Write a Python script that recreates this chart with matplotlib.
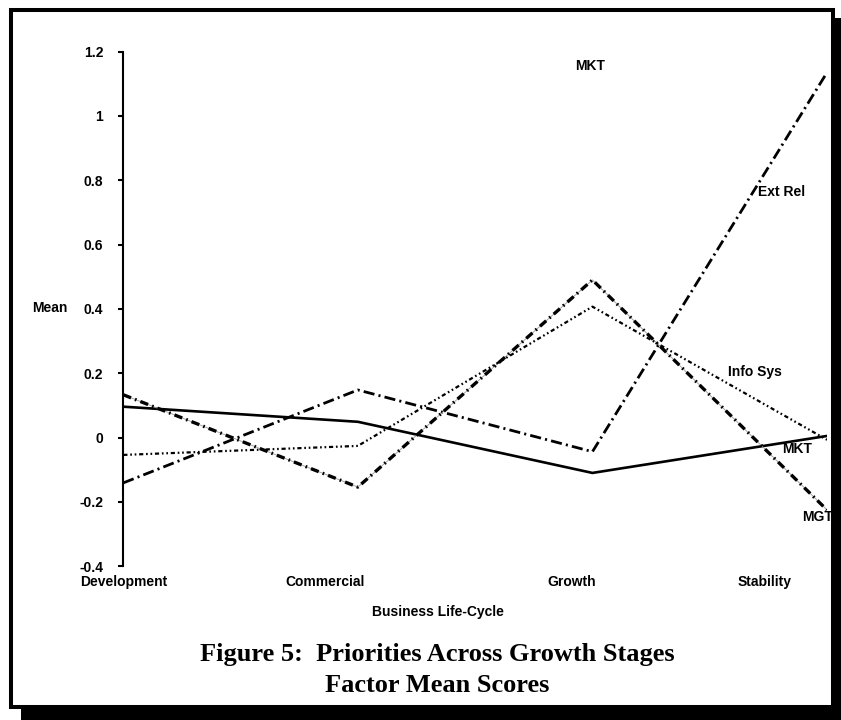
import matplotlib
matplotlib.use("Agg")
import matplotlib.pyplot as plt
from matplotlib.patches import Rectangle

plt.rcParams['font.family'] = ['Liberation Sans', 'DejaVu Sans']
plt.rcParams['lines.scale_dashes'] = False

# categories and factor mean scores
stages = ['Development', 'Commercial', 'Growth', 'Stability']
mkt = [0.096, 0.049, -0.110, 0.005]
ext_rel = [-0.141, 0.148, -0.044, 1.135]
mgt = [0.133, -0.154, 0.490, -0.225]
info_sys = [-0.054, -0.026, 0.407, -0.007]

yticks = [-0.4, -0.2, 0, 0.2, 0.4, 0.6, 0.8, 1, 1.2]
ytick_labels = ['-0.4', '-0.2', '0', '0.2', '0.4', '0.6', '0.8', '1', '1.2']

W, H = 841, 720
fig = plt.figure(figsize=(W / 100, H / 100), dpi=100)

# framed box with drop shadow
fig.patches.append(Rectangle((21 / W, 0), 1, 1 - 18 / H, transform=fig.transFigure,
                             facecolor='black', edgecolor='none', zorder=-3))
fig.patches.append(Rectangle((11 / W, 1 - 707 / H), 822 / W, 697 / H, transform=fig.transFigure,
                             facecolor='white', edgecolor='black', linewidth=2.9, zorder=-2))

ax = fig.add_axes([123.3 / W, 1 - 566.2 / H, (827 - 123.3) / W, (566.2 - 51.6) / H])
ax.patch.set_alpha(0)

x = list(range(len(stages)))
ax.plot(x, mkt, color='black', lw=1.9, solid_joinstyle='miter')
ax.plot(x, ext_rel, color='black', lw=2.0, linestyle=(0, (8, 3, 1.5, 3)))
ax.plot(x, mgt, color='#9a9a9a', lw=0.6)
ax.plot(x, mgt, color='black', lw=2.4, linestyle=(0, (6, 3, 1.2, 3)))
ax.plot(x, info_sys, color='black', lw=1.6, linestyle=(0, (3, 2, 1.2, 2, 1.2, 2)))

ax.set_xlim(0, 3)
ax.set_ylim(-0.4, 1.2)
for s in ['top', 'right', 'bottom']:
    ax.spines[s].set_visible(False)
ax.spines['left'].set_linewidth(1.5)

ax.set_yticks(yticks, ytick_labels)
ax.tick_params(axis='y', direction='out', length=3.6, width=1.5, pad=11,
               labelsize=10)
for t in ax.get_yticklabels():
    t.set_fontweight('bold')

ax.set_xticks([0, 0.86, 1.91, 2.735], stages)
ax.tick_params(axis='x', length=0, pad=6, labelsize=10)
for t in ax.get_xticklabels():
    t.set_fontweight('bold')

# series labels
lab = dict(fontsize=10, fontweight='bold', va='center')
ax.text(1.99, 1.155, 'MKT', ha='center', **lab)
ax.text(2.706, 0.765, 'Ext Rel', ha='left', **lab)
ax.text(2.578, 0.204, 'Info Sys', ha='left', **lab)
ax.text(2.808, -0.037, 'MKT', ha='left', **lab)
ax.text(2.893, -0.247, 'MGT', ha='left', **lab)

fig.text(50 / W, 1 - 308 / H, 'Mean', ha='center', va='center', fontsize=10, fontweight='bold')
fig.text(438 / W, 1 - 612 / H, 'Business Life-Cycle', ha='center', va='center',
         fontsize=10, fontweight='bold')
fig.text(437 / W, 1 - 655 / H, 'Figure 5:  Priorities Across Growth Stages', ha='center',
         va='center', fontsize=19, fontweight='bold', family='Liberation Serif')
fig.text(437 / W, 1 - 686 / H, 'Factor Mean Scores', ha='center', va='center',
         fontsize=19, fontweight='bold', family='Liberation Serif')

fig.savefig('out.png', dpi=100)
